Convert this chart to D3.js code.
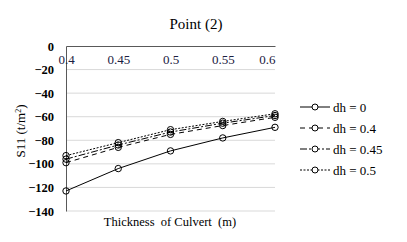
<!DOCTYPE html>
<html>
<head>
<meta charset="utf-8">
<script src="https://cdn.jsdelivr.net/npm/d3@7"></script>
<style>
  body { margin: 0; background: #fff; }
  svg text { font-family: "Liberation Serif", "Times New Roman", "DejaVu Serif", serif !important; fill: #000; }
</style>
</head>
<body>
<div id="chart"></div>
<script>
// Chart values
const thickness = [0.4, 0.45, 0.5, 0.55, 0.6];
const xTicks = ["0.4", "0.45", "0.5", "0.55", "0.6"];
const yTicks = [0, -20, -40, -60, -80, -100, -120, -140];
const seriesNames = ["dh = 0", "dh = 0.4", "dh = 0.45", "dh = 0.5"];
const dh0 = [-123, -104, -89, -78, -69];
const dh04 = [-99, -86, -75, -67.5, -60.5];
const dh045 = [-96, -84, -73, -65.5, -59];
const dh05 = [-93, -82, -71, -64, -57.5];

const allSeries = [dh0, dh04, dh045, dh05];
const dashes = [null, "5,4", "7,2,2,2", "2,1.5"];

const W = 407, H = 242;
const margin = { top: 46, right: 132, bottom: 31, left: 66 };
const width = W - margin.left - margin.right;
const height = H - margin.top - margin.bottom;

const svg = d3.select("#chart")
    .append("svg")
    .attr("width", W)
    .attr("height", H)
  .append("g")
    .attr("transform", `translate(${margin.left},${margin.top})`);

const x = d3.scaleLinear()
    .domain([0.4, 0.6])
    .range([0, width]);

const y = d3.scaleLinear()
    .domain([-140, 0])
    .range([height, 0]);

// gridlines
svg.append("g")
    .selectAll("line")
    .data(yTicks.filter(d => d !== 0))
    .enter()
    .append("line")
    .attr("x1", 0)
    .attr("x2", width)
    .attr("y1", d => y(d))
    .attr("y2", d => y(d))
    .attr("stroke", "#d9d9d9")
    .attr("stroke-width", 1);

// y-axis
const yAxis = svg.append("g")
    .call(d3.axisLeft(y).tickValues(yTicks).tickSize(0).tickPadding(12));
yAxis.select(".domain").attr("stroke", "#595959");
yAxis.selectAll("text")
    .style("font-size", "12.5px")
    .style("font-weight", "bold")
    .attr("fill", "#000");

// x-axis along the top (y = 0)
const xAxis = svg.append("g")
    .attr("transform", `translate(0,${y(0)})`)
    .call(d3.axisBottom(x).tickValues(thickness).tickFormat((d, i) => xTicks[i]).tickSize(0).tickPadding(9));
xAxis.select(".domain").attr("stroke", "#595959");
xAxis.selectAll("text")
    .style("font-size", "13px")
    .style("fill", "#1a2040")
    .attr("text-anchor", (d, i) => i === thickness.length - 1 ? "end" : "middle");

// lines
const line = d3.line()
    .x((d, i) => x(thickness[i]))
    .y(d => y(d));

allSeries.forEach((s, k) => {
    svg.append("path")
        .datum(s)
        .attr("d", line)
        .attr("fill", "none")
        .attr("stroke", "#000")
        .attr("stroke-width", 1)
        .attr("stroke-dasharray", dashes[k]);
    svg.append("g")
        .selectAll("circle")
        .data(s)
        .enter()
        .append("circle")
        .attr("cx", (d, i) => x(thickness[i]))
        .attr("cy", d => y(d))
        .attr("r", 3.2)
        .attr("fill", "none")
        .attr("stroke", "#000")
        .attr("stroke-width", 1);
});

// legend
const legend = svg.append("g")
    .attr("transform", `translate(${300 - margin.left},${107 - margin.top})`);
seriesNames.forEach((name, k) => {
    const row = legend.append("g").attr("transform", `translate(0,${k * 21})`);
    row.append("line")
        .attr("x1", 0).attr("x2", 30)
        .attr("y1", 0).attr("y2", 0)
        .attr("stroke", "#000")
        .attr("stroke-width", 1)
        .attr("stroke-dasharray", dashes[k]);
    row.append("circle")
        .attr("cx", 15).attr("cy", 0).attr("r", 3)
        .attr("fill", "#fff")
        .attr("stroke", "#000");
    row.append("text")
        .attr("x", 33)
        .attr("y", 4.5)
        .style("font-size", "13px")
        .text(name);
});

// title
svg.append("text")
    .attr("x", 196 - margin.left)
    .attr("y", 29 - margin.top)
    .style("text-anchor", "middle")
    .style("font-size", "15px")
    .text("Point (2)");

// x-axis label
svg.append("text")
    .attr("x", 170 - margin.left)
    .attr("y", 226 - margin.top)
    .style("text-anchor", "middle")
    .style("font-size", "12.5px")
    .style("white-space", "pre")
    .text("Thickness  of Culvert  (m)");

// y-axis label
const yl = svg.append("text")
    .attr("transform", `translate(${25 - margin.left},${131 - margin.top}) rotate(-90)`)
    .style("text-anchor", "middle")
    .style("font-size", "13px");
yl.append("tspan").text("S11 (t/m");
yl.append("tspan").attr("dy", -4).style("font-size", "8px").text("2");
yl.append("tspan").attr("dy", 4).text(")");
</script>
</body>
</html>
